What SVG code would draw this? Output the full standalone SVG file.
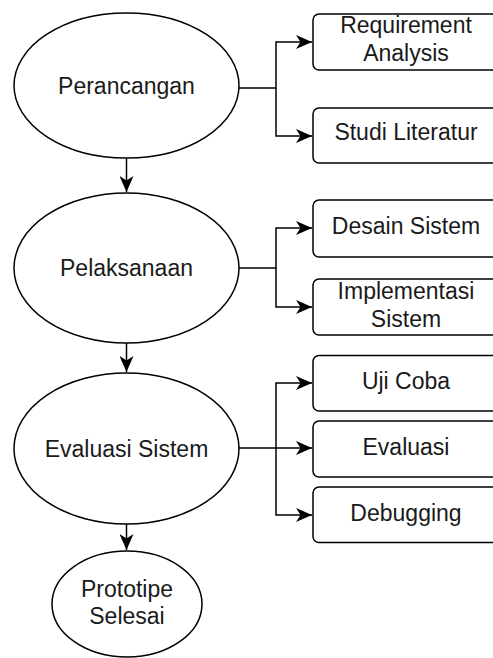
<svg xmlns="http://www.w3.org/2000/svg" width="493" height="658" viewBox="0 0 493 658">
<style>
.n{fill:#fff;stroke:#000;stroke-width:1.5}
.t{font-family:"Liberation Sans",Arial,sans-serif;font-size:23px;fill:#1a1a1a;text-anchor:middle}
.c{fill:none;stroke:#000;stroke-width:1.5}
</style>
<defs>
<marker id="a" markerUnits="userSpaceOnUse" viewBox="0 0 16 14" refX="16" refY="7" markerWidth="16" markerHeight="14" orient="auto">
<path d="M0,0 L16,7 L0,14 L4.5,7 Z" fill="#000"/>
</marker>
</defs>
<rect width="493" height="658" fill="#fff"/>
<g id="connectors">
<path class="c" d="M126.5,158 V192" marker-end="url(#a)"/>
<path class="c" d="M126.5,343 V372" marker-end="url(#a)"/>
<path class="c" d="M126.5,524 V550" marker-end="url(#a)"/>
<path class="c" d="M239,88 H276 V42 H312" marker-end="url(#a)"/>
<path class="c" d="M276,88 V136 H312" marker-end="url(#a)"/>
<path class="c" d="M239,268 H276 V228 H312" marker-end="url(#a)"/>
<path class="c" d="M276,268 V307 H312" marker-end="url(#a)"/>
<path class="c" d="M239,448 H312" marker-end="url(#a)"/>
<path class="c" d="M276,448 V383 H312" marker-end="url(#a)"/>
<path class="c" d="M276,448 V515 H312" marker-end="url(#a)"/>
</g>
<g id="perancangan">
<ellipse class="n" cx="126.5" cy="85.5" rx="112.5" ry="72.5"/>
<text class="t" x="126.5" y="93.5">Perancangan</text>
</g>
<g id="pelaksanaan">
<ellipse class="n" cx="126.5" cy="268" rx="112.5" ry="75"/>
<text class="t" x="126.5" y="276">Pelaksanaan</text>
</g>
<g id="evaluasi-sistem">
<ellipse class="n" cx="126.5" cy="448.5" rx="112.5" ry="75.5"/>
<text class="t" x="126.5" y="456.5">Evaluasi Sistem</text>
</g>
<g id="prototipe-selesai">
<ellipse class="n" cx="127" cy="604" rx="75" ry="53"/>
<text class="t" x="127" y="596.5">Prototipe</text>
<text class="t" x="127" y="623.5">Selesai</text>
</g>
<g id="requirement-analysis">
<rect class="n" x="313" y="14" width="186" height="56" rx="6"/>
<text class="t" x="406" y="33">Requirement</text>
<text class="t" x="406" y="61">Analysis</text>
</g>
<g id="studi-literatur">
<rect class="n" x="313" y="108" width="186" height="55" rx="6"/>
<text class="t" x="406" y="139.5">Studi Literatur</text>
</g>
<g id="desain-sistem">
<rect class="n" x="313" y="200" width="186" height="57" rx="6"/>
<text class="t" x="406" y="234">Desain Sistem</text>
</g>
<g id="implementasi-sistem">
<rect class="n" x="313" y="279" width="186" height="56" rx="6"/>
<text class="t" x="406" y="298.5">Implementasi</text>
<text class="t" x="406" y="326.5">Sistem</text>
</g>
<g id="uji-coba">
<rect class="n" x="313" y="355.5" width="186" height="55.5" rx="6"/>
<text class="t" x="406" y="389">Uji Coba</text>
</g>
<g id="evaluasi">
<rect class="n" x="313" y="421" width="186" height="56" rx="6"/>
<text class="t" x="406" y="455">Evaluasi</text>
</g>
<g id="debugging">
<rect class="n" x="313" y="487" width="186" height="55.5" rx="6"/>
<text class="t" x="406" y="520.5">Debugging</text>
</g>
</svg>
